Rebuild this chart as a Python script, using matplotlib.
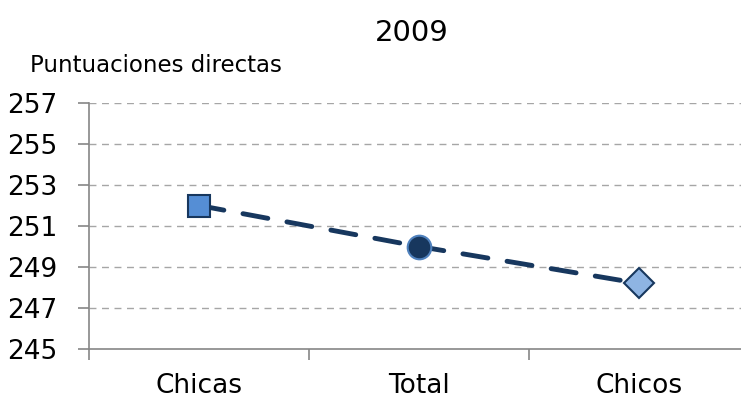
import numpy as np
import matplotlib.pyplot as plt

categories = ["Chicas", "Total", "Chicos"]
scores = [252.0, 250.0, 248.2]
y_ticks = [245, 247, 249, 251, 253, 255, 257]

markers = ["s", "o", "D"]
face_colors = ["#558ED5", "#17375E", "#8EB4E3"]
edge_colors = ["#17375E", "#4F81BD", "#17375E"]
marker_sizes = [16, 17, 15]

fig = plt.figure(figsize=(7.41, 4.03), dpi=100)
ax = fig.add_axes([89 / 741, 54 / 403, 652 / 741, 246 / 403])

x = np.arange(len(categories))
ax.plot(x, scores, linestyle=(0, (5.2, 4)), color="#17375E", linewidth=3.5,
        dash_capstyle="round", zorder=3)
for i in range(len(categories)):
    ax.plot(x[i], scores[i], marker=markers[i], markersize=marker_sizes[i],
            markerfacecolor=face_colors[i], markeredgecolor=edge_colors[i],
            markeredgewidth=1.5, linestyle="none", zorder=4)

ax.set_xlim(-0.5, -0.5 + 652 / 220)
ax.set_ylim(245, 257)
ax.set_yticks(y_ticks)
ax.set_yticklabels([str(v) for v in y_ticks], fontsize=19)
ax.set_xticks(x)
ax.set_xticklabels(categories, fontsize=19)
ax.set_xticks([-0.5, 0.5, 1.5], minor=True)

ax.tick_params(axis="x", which="major", length=0, pad=17)
ax.tick_params(axis="x", which="minor", length=8, color="#868686", width=1.2)
ax.tick_params(axis="y", length=8, color="#868686", width=1.2, pad=15)

for v in y_ticks[1:]:
    ax.axhline(v, color="#A6A6A6", linewidth=1, linestyle=(0, (5, 4)), zorder=1)

for side in ["top", "right"]:
    ax.spines[side].set_visible(False)
for side in ["left", "bottom"]:
    ax.spines[side].set_color("#868686")
    ax.spines[side].set_linewidth(1.2)

fig.text(412 / 741, 1 - 33 / 403, "2009", fontsize=21, ha="center", va="center")
fig.text(30 / 741, 1 - 65 / 403, "Puntuaciones directas", fontsize=16.5,
         ha="left", va="center")

plt.savefig("out.png", dpi=100)
